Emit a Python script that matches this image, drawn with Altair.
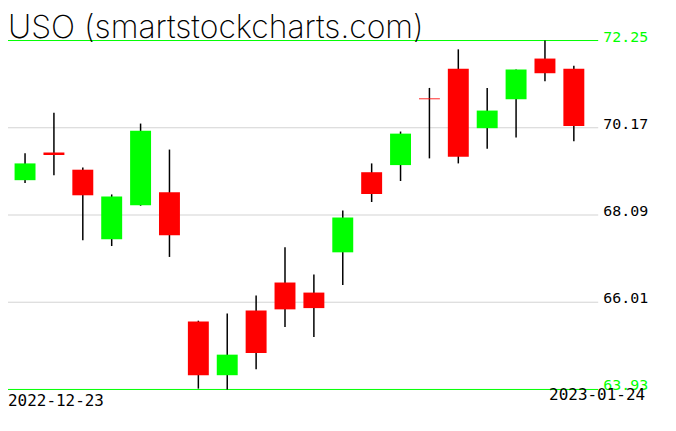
import altair as alt
import pandas as pd

dates = ["2022-12-23", "2022-12-27", "2022-12-28", "2022-12-29", "2022-12-30",
         "2023-01-03", "2023-01-04", "2023-01-05", "2023-01-06", "2023-01-09",
         "2023-01-10", "2023-01-11", "2023-01-12", "2023-01-13", "2023-01-17",
         "2023-01-18", "2023-01-19", "2023-01-20", "2023-01-23", "2023-01-24"]
opens = [68.92, 69.58, 69.17, 67.51, 68.32, 68.63, 65.55, 64.27, 65.81, 66.48,
         66.24, 67.20, 69.11, 69.28, 70.87, 71.58, 70.16, 70.85, 71.82, 71.58]
highs = [69.56, 70.53, 69.22, 68.58, 70.27, 69.65, 65.57, 65.74, 66.17, 67.32,
         66.67, 68.20, 69.32, 70.08, 71.12, 72.04, 71.12, 71.56, 72.25, 71.65]
lows = [68.85, 69.04, 67.49, 67.35, 68.31, 67.09, 63.95, 63.93, 64.41, 65.42,
        65.18, 66.42, 68.40, 68.90, 69.44, 69.32, 69.67, 69.94, 71.28, 69.85]
closes = [69.32, 69.52, 68.56, 68.53, 70.10, 67.61, 64.27, 64.76, 64.80, 65.84,
          65.87, 68.03, 68.59, 70.03, 70.85, 69.48, 70.58, 71.56, 71.47, 70.21]

tick_values = [72.25, 70.17, 68.09, 66.01, 63.93]
tick_labels = ["72.25", "70.17", "68.09", "66.01", "63.93"]
title_text = "USO (smartstockcharts.com)"

df = pd.DataFrame({
    "idx": list(range(len(dates))),
    "date": dates,
    "open": opens,
    "high": highs,
    "low": lows,
    "close": closes,
})
df["dir"] = ["up" if c > o else "down" for o, c in zip(opens, closes)]

ymin, ymax = min(tick_values), max(tick_values)
ticks = pd.DataFrame({"v": tick_values, "label": tick_labels})
ticks["edge"] = ["edge" if v in (ymin, ymax) else "mid" for v in tick_values]

W, H = 592, 350
FONT = "DejaVu Sans Mono"

xs = alt.Scale(domain=[-0.4174, 19.671], nice=False, zero=False)
ys = alt.Scale(domain=[ymin, ymax], nice=False, zero=False)

base = alt.Chart(df)

grid = alt.Chart(ticks).transform_filter("datum.edge == 'mid'").mark_rule(
    color="#d3d3d3", strokeWidth=1
).encode(y=alt.Y("v:Q", scale=ys, axis=None), x=alt.value(0), x2=alt.value(W))

edges = alt.Chart(ticks).transform_filter("datum.edge == 'edge'").mark_rule(
    color="#00ff00", strokeWidth=1
).encode(y=alt.Y("v:Q", scale=ys, axis=None), x=alt.value(0), x2=alt.value(W))

labels_mid = alt.Chart(ticks).transform_filter("datum.edge == 'mid'").mark_text(
    align="left", baseline="alphabetic", font=FONT, fontSize=15, dy=1, color="black"
).encode(
    x=alt.value(597),
    y=alt.Y("v:Q", scale=ys, axis=None),
    text="label:N",
)

labels_edge = alt.Chart(ticks).transform_filter("datum.edge == 'edge'").mark_text(
    align="left", baseline="alphabetic", font=FONT, fontSize=15, dy=1, color="#00ff00"
).encode(
    x=alt.value(597),
    y=alt.Y("v:Q", scale=ys, axis=None),
    text="label:N",
)

wicks = base.mark_rule(color="black", strokeWidth=1.5).encode(
    x=alt.X("idx:Q", scale=xs, axis=None),
    y=alt.Y("low:Q", scale=ys, axis=None),
    y2="high:Q",
)

bodies = base.mark_bar(size=21).encode(
    x=alt.X("idx:Q", scale=xs, axis=None),
    y=alt.Y("open:Q", scale=ys, axis=None),
    y2="close:Q",
    color=alt.Color("dir:N", scale=alt.Scale(domain=["up", "down"], range=["#00ff00", "#ff0000"]), legend=None),
)

title = alt.Chart(pd.DataFrame({"t": [title_text]})).mark_text(
    align="left", baseline="alphabetic", font="Inter", fontSize=32, fontWeight=200, color="black"
).encode(x=alt.value(0), y=alt.value(-3), text="t:N")

date_df = pd.DataFrame({"d": [dates[0]]})
date_left = alt.Chart(date_df).mark_text(
    align="left", baseline="alphabetic", font=FONT, fontSize=16, color="black"
).encode(x=alt.value(0), y=alt.value(367), text="d:N")

date_df2 = pd.DataFrame({"d": [dates[-1]]})
date_right = alt.Chart(date_df2).mark_text(
    align="right", baseline="alphabetic", font=FONT, fontSize=16, color="black"
).encode(x=alt.value(639), y=alt.value(361), text="d:N")

chart = alt.layer(grid, edges, wicks, bodies, labels_mid, labels_edge, title, date_left, date_right).properties(
    width=W, height=H,
    background="white",
    autosize=alt.AutoSizeParams(type="none"),
    padding={"left": 0, "top": 32, "right": 70, "bottom": 30},
).configure_view(stroke="transparent", strokeWidth=0)

chart.save("out.html", embed_options={"renderer": "svg", "actions": False})
